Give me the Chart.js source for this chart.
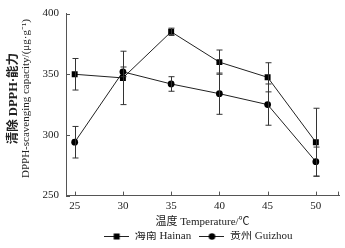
<!DOCTYPE html>
<html>
<head>
<meta charset="utf-8">
<script src="https://cdn.jsdelivr.net/npm/chart.js@4/dist/chart.umd.min.js"></script>
<style>
  html, body { margin: 0; padding: 0; background: #fff; }
  #wrap { width: 345px; height: 248px; position: relative; }
</style>
</head>
<body>
<div id="wrap"><canvas id="c"></canvas></div>
<script>
  // temperature (℃)
  const temps = [25, 30, 35, 40, 45, 50];
  const hainan = [350, 347, 385, 360, 347.5, 294];
  const hainanErr = [13, 22, 3, 10, 12, 28];
  const guizhou = [294, 352, 342, 334, 325, 278];
  const guizhouErr = [13, 4, 6, 17, 17, 12];
  const xTicks = [25, 30, 35, 40, 45, 50];
  const yTicks = [250, 300, 350, 400];

  const serif = "'Liberation Serif', 'Noto Sans CJK SC', serif";
  const ink = "#222";
  const axisGray = "#555";

  // legend icon: short line with the marker in the middle
  function legendIcon(shape) {
    const cv = document.createElement("canvas");
    cv.width = 25;
    cv.height = 9;
    const g = cv.getContext("2d");
    g.strokeStyle = ink;
    g.lineWidth = 1;
    g.beginPath();
    g.moveTo(0, 4.5);
    g.lineTo(25, 4.5);
    g.stroke();
    g.fillStyle = "#000";
    if (shape === "rect") {
      g.fillRect(9.5, 1.5, 6, 6);
    } else {
      g.beginPath();
      g.arc(12.5, 4.5, 3.3, 0, Math.PI * 2);
      g.fill();
    }
    return cv;
  }

  const errorBars = {
    id: "errorBars",
    afterDatasetsDraw(chart) {
      const { ctx, scales } = chart;
      const errs = [hainanErr, guizhouErr];
      ctx.save();
      ctx.strokeStyle = "#333";
      ctx.lineWidth = 1;
      chart.data.datasets.forEach((ds, di) => {
        ds.data.forEach((p, i) => {
          const x = Math.round(scales.x.getPixelForValue(p.x)) + 0.5;
          const yt = scales.y.getPixelForValue(p.y + errs[di][i]);
          const yb = scales.y.getPixelForValue(p.y - errs[di][i]);
          ctx.beginPath();
          ctx.moveTo(x, yt);
          ctx.lineTo(x, yb);
          ctx.moveTo(x - 3, yt);
          ctx.lineTo(x + 3, yt);
          ctx.moveTo(x - 3, yb);
          ctx.lineTo(x + 3, yb);
          ctx.stroke();
        });
      });
      ctx.restore();
    },
  };

  const frame = {
    id: "frame",
    afterDraw(chart) {
      const { ctx, chartArea: a, scales } = chart;
      ctx.save();
      ctx.strokeStyle = axisGray;
      ctx.lineWidth = 1;
      // inward ticks
      ctx.beginPath();
      xTicks.forEach((t) => {
        const x = Math.round(scales.x.getPixelForValue(t)) + 0.5;
        ctx.moveTo(x, a.bottom);
        ctx.lineTo(x, a.bottom - 4);
      });
      ctx.moveTo(a.right - 0.5, a.bottom);
      ctx.lineTo(a.right - 0.5, a.bottom - 4);
      yTicks.forEach((t) => {
        const y = Math.round(scales.y.getPixelForValue(t)) + 0.5;
        ctx.moveTo(a.left, y);
        ctx.lineTo(a.left + 4, y);
      });
      ctx.stroke();

      // y axis title, two lines
      const cy = (a.top + a.bottom) / 2;
      ctx.fillStyle = ink;
      ctx.textAlign = "center";
      ctx.textBaseline = "middle";
      ctx.translate(14, cy - 6);
      ctx.rotate(-Math.PI / 2);
      ctx.font = "bold 12.5px " + serif;
      ctx.fillText("清除 DPPH·能力", 0, 0);
      ctx.font = "11px " + serif;
      ctx.fillText("DPPH-scavenging capacity/(μg·g⁻¹)", 0, 12);
      ctx.restore();
    },
  };

  new Chart(document.getElementById("c"), {
    type: "line",
    data: {
      datasets: [
        {
          label: "海南 Hainan",
          data: temps.map((t, i) => ({ x: t, y: hainan[i] })),
          borderColor: ink,
          borderWidth: 1,
          backgroundColor: "#000",
          pointStyle: "rect",
          pointRadius: 4.2,
          pointBorderWidth: 0,
          tension: 0,
        },
        {
          label: "贵州 Guizhou",
          data: temps.map((t, i) => ({ x: t, y: guizhou[i] })),
          borderColor: ink,
          borderWidth: 1,
          backgroundColor: "#000",
          pointStyle: "circle",
          pointRadius: 3.4,
          pointBorderWidth: 0,
          tension: 0,
        },
      ],
    },
    options: {
      responsive: true,
      maintainAspectRatio: false,
      animation: false,
      layout: { padding: { left: 0, right: 6, top: 8, bottom: -4 } },
      plugins: {
        tooltip: { enabled: false },
        legend: {
          position: "bottom",
          fullSize: false,
          labels: {
            usePointStyle: true,
            pointStyleWidth: 25,
            boxHeight: 9,
            padding: 0,
            color: ink,
            font: { family: serif, size: 11 },
            generateLabels(chart) {
              // trailing spaces give the gap between the two entries
              return chart.data.datasets.map((ds, i) => ({
                text: ds.label + "   ",
                pointStyle: legendIcon(i === 0 ? "rect" : "circle"),
                fillStyle: "#000",
                strokeStyle: ink,
                lineWidth: 0,
                fontColor: ink,
                hidden: false,
                datasetIndex: i,
              }));
            },
          },
        },
      },
      scales: {
        x: {
          type: "linear",
          min: 24.1,
          max: 52.4,
          afterBuildTicks(scale) {
            scale.ticks = xTicks.map((v) => ({ value: v }));
          },
          grid: { display: false, drawTicks: false },
          border: { color: axisGray, width: 1 },
          ticks: {
            padding: 4,
            color: ink,
            font: { family: serif, size: 11 },
          },
          title: {
            display: true,
            text: "温度 Temperature/℃",
            color: ink,
            font: { family: serif, size: 11 },
            padding: { top: -1, bottom: 2 },
          },
        },
        y: {
          min: 250,
          max: 400,
          afterBuildTicks(scale) {
            scale.ticks = yTicks.map((v) => ({ value: v }));
          },
          afterFit(scale) {
            scale.width = 66;
          },
          grid: { display: false, drawTicks: false },
          border: { color: axisGray, width: 1 },
          ticks: {
            padding: 7,
            color: ink,
            font: { family: serif, size: 11 },
          },
        },
      },
    },
    plugins: [errorBars, frame],
  });
</script>
</body>
</html>
